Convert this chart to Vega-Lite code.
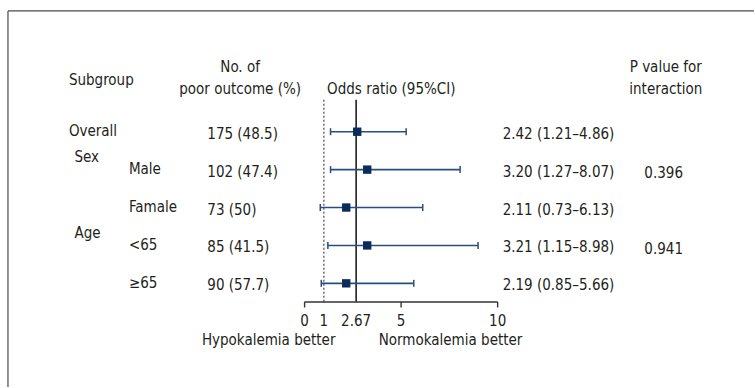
{
  "$schema": "https://vega.github.io/schema/vega-lite/v6.json",
  "width": 755,
  "height": 388,
  "autosize": {"type": "fit", "contains": "padding"},
  "padding": 0,
  "background": "#ffffff",
  "config": {
    "view": {"stroke": null},
    "text": {"font": "DejaVu Sans Condensed, Liberation Sans Narrow, Liberation Sans", "fontSize": 15, "color": "#231f20", "baseline": "alphabetic"}
  },
  "datasets": {
    "rows": [
      {"row": 1, "subgroup": "Overall", "n": "175 (48.5)", "or": 2.726, "lo": 1.345, "hi": 5.261, "ci": "2.42 (1.21–4.86)", "p": ""},
      {"row": 2, "subgroup": "Male", "n": "102 (47.4)", "or": 3.244, "lo": 1.345, "hi": 8.055, "ci": "3.20 (1.27–8.07)", "p": "0.396"},
      {"row": 3, "subgroup": "Famale", "n": "73 (50)", "or": 2.157, "lo": 0.812, "hi": 6.12, "ci": "2.11 (0.73–6.13)", "p": ""},
      {"row": 4, "subgroup": "<65", "n": "85 (41.5)", "or": 3.244, "lo": 1.205, "hi": 8.986, "ci": "3.21 (1.15–8.98)", "p": "0.941"},
      {"row": 5, "subgroup": "≥65", "n": "90 (57.7)", "or": 2.157, "lo": 0.864, "hi": 5.654, "ci": "2.19 (0.85–5.66)", "p": ""}
    ],
    "groups": [
      {"group": "Sex", "first_row": 2},
      {"group": "Age", "first_row": 4}
    ],
    "ticks": [
      {"value": 0, "label": "0", "major": true},
      {"value": 1, "label": "1", "major": false},
      {"value": 2.67, "label": "2.67", "major": false},
      {"value": 5, "label": "5", "major": true},
      {"value": 10, "label": "10", "major": true}
    ],
    "one": [{}]
  },
  "data": {"name": "rows"},
  "layer": [
    {
      "data": {"name": "one"},
      "mark": {"type": "rule", "color": "#4a4a4a", "strokeWidth": 1.2},
      "encoding": {
        "x": {"datum": -15.365, "scale": {"domain": [-15.778, 23.28], "nice": false, "zero": false}, "axis": null},
        "x2": {"datum": 23.28},
        "y": {"datum": -2.186, "scale": {"domain": [-2.475, 7.735], "reverse": true, "nice": false, "zero": false}, "axis": null}
      }
    },
    {
      "data": {"name": "one"},
      "mark": {"type": "rule", "color": "#4a4a4a", "strokeWidth": 1.2},
      "encoding": {
        "x": {"datum": -15.365, "scale": {"domain": [-15.778, 23.28], "nice": false, "zero": false}, "axis": null},
        "y": {"datum": -2.186, "scale": {"domain": [-2.475, 7.735], "reverse": true, "nice": false, "zero": false}, "axis": null},
        "y2": {"datum": 7.735}
      }
    },
    {
      "data": {"name": "one"},
      "mark": {"type": "rule", "color": "#222222", "strokeWidth": 1, "strokeDash": [2, 2]},
      "encoding": {
        "x": {"datum": 1, "scale": {"domain": [-15.778, 23.28], "nice": false, "zero": false}, "axis": null},
        "y": {"datum": 0.156, "scale": {"domain": [-2.475, 7.735], "reverse": true, "nice": false, "zero": false}, "axis": null},
        "y2": {"datum": 5.491}
      }
    },
    {
      "data": {"name": "one"},
      "mark": {"type": "rule", "color": "#111111", "strokeWidth": 1.5},
      "encoding": {
        "x": {"datum": 2.67, "scale": {"domain": [-15.778, 23.28], "nice": false, "zero": false}, "axis": null},
        "y": {"datum": 0.156, "scale": {"domain": [-2.475, 7.735], "reverse": true, "nice": false, "zero": false}, "axis": null},
        "y2": {"datum": 5.491}
      }
    },
    {
      "data": {"name": "one"},
      "mark": {"type": "rule", "color": "#333333", "strokeWidth": 1.4},
      "encoding": {
        "x": {"datum": 0, "scale": {"domain": [-15.778, 23.28], "nice": false, "zero": false}, "axis": null},
        "x2": {"datum": 10},
        "y": {"datum": 5.491, "scale": {"domain": [-2.475, 7.735], "reverse": true, "nice": false, "zero": false}, "axis": null}
      }
    },
    {
      "data": {"name": "ticks"},
      "transform": [{"filter": "datum.major"}],
      "mark": {"type": "rule", "color": "#333333", "strokeWidth": 1.4},
      "encoding": {
        "x": {"field": "value", "type": "quantitative", "scale": {"domain": [-15.778, 23.28], "nice": false, "zero": false}, "axis": null},
        "y": {"datum": 5.491, "scale": {"domain": [-2.475, 7.735], "reverse": true, "nice": false, "zero": false}, "axis": null},
        "y2": {"datum": 5.637}
      }
    },
    {
      "data": {"name": "ticks"},
      "mark": {"type": "text", "align": "center"},
      "encoding": {
        "x": {"field": "value", "type": "quantitative", "scale": {"domain": [-15.778, 23.28], "nice": false, "zero": false}, "axis": null},
        "y": {"datum": 6.122, "scale": {"domain": [-2.475, 7.735], "reverse": true, "nice": false, "zero": false}, "axis": null},
        "text": {"field": "label"}
      }
    },
    {
      "mark": {"type": "rule", "color": "#2b4d7e", "strokeWidth": 1.6},
      "encoding": {
        "x": {"field": "lo", "type": "quantitative", "scale": {"domain": [-15.778, 23.28], "nice": false, "zero": false}, "axis": null},
        "x2": {"field": "hi"},
        "y": {"field": "row", "type": "quantitative", "scale": {"domain": [-2.475, 7.735], "reverse": true, "nice": false, "zero": false}, "axis": null}
      }
    },
    {
      "mark": {"type": "tick", "orient": "vertical", "size": 7, "thickness": 1.5, "color": "#2b4d7e", "opacity": 1},
      "encoding": {
        "x": {"field": "lo", "type": "quantitative", "scale": {"domain": [-15.778, 23.28], "nice": false, "zero": false}, "axis": null},
        "y": {"field": "row", "type": "quantitative", "scale": {"domain": [-2.475, 7.735], "reverse": true, "nice": false, "zero": false}, "axis": null}
      }
    },
    {
      "mark": {"type": "tick", "orient": "vertical", "size": 7, "thickness": 1.5, "color": "#2b4d7e", "opacity": 1},
      "encoding": {
        "x": {"field": "hi", "type": "quantitative", "scale": {"domain": [-15.778, 23.28], "nice": false, "zero": false}, "axis": null},
        "y": {"field": "row", "type": "quantitative", "scale": {"domain": [-2.475, 7.735], "reverse": true, "nice": false, "zero": false}, "axis": null}
      }
    },
    {
      "mark": {"type": "point", "shape": "square", "filled": true, "size": 70, "color": "#0b2b5b", "opacity": 1},
      "encoding": {
        "x": {"field": "or", "type": "quantitative", "scale": {"domain": [-15.778, 23.28], "nice": false, "zero": false}, "axis": null},
        "y": {"field": "row", "type": "quantitative", "scale": {"domain": [-2.475, 7.735], "reverse": true, "nice": false, "zero": false}, "axis": null}
      }
    },
    {
      "transform": [{"filter": "datum.row == 1"}],
      "mark": {"type": "text", "align": "left", "dy": 4},
      "encoding": {
        "x": {"datum": -12.21, "scale": {"domain": [-15.778, 23.28], "nice": false, "zero": false}, "axis": null},
        "y": {"field": "row", "type": "quantitative", "scale": {"domain": [-2.475, 7.735], "reverse": true, "nice": false, "zero": false}, "axis": null},
        "text": {"field": "subgroup"}
      }
    },
    {
      "transform": [{"filter": "datum.row > 1"}],
      "mark": {"type": "text", "align": "left", "dy": 4.5},
      "encoding": {
        "x": {"datum": -9.1, "scale": {"domain": [-15.778, 23.28], "nice": false, "zero": false}, "axis": null},
        "y": {"field": "row", "type": "quantitative", "scale": {"domain": [-2.475, 7.735], "reverse": true, "nice": false, "zero": false}, "axis": null},
        "text": {"field": "subgroup"}
      }
    },
    {
      "data": {"name": "groups"},
      "mark": {"type": "text", "align": "left", "dy": -7.7},
      "encoding": {
        "x": {"datum": -11.92, "scale": {"domain": [-15.778, 23.28], "nice": false, "zero": false}, "axis": null},
        "y": {"field": "first_row", "type": "quantitative", "scale": {"domain": [-2.475, 7.735], "reverse": true, "nice": false, "zero": false}, "axis": null},
        "text": {"field": "group"}
      }
    },
    {
      "mark": {"type": "text", "align": "left", "dy": 7},
      "encoding": {
        "x": {"datum": -5.04, "scale": {"domain": [-15.778, 23.28], "nice": false, "zero": false}, "axis": null},
        "y": {"field": "row", "type": "quantitative", "scale": {"domain": [-2.475, 7.735], "reverse": true, "nice": false, "zero": false}, "axis": null},
        "text": {"field": "n"}
      }
    },
    {
      "mark": {"type": "text", "align": "left", "dy": 7},
      "encoding": {
        "x": {"datum": 10.26, "scale": {"domain": [-15.778, 23.28], "nice": false, "zero": false}, "axis": null},
        "y": {"field": "row", "type": "quantitative", "scale": {"domain": [-2.475, 7.735], "reverse": true, "nice": false, "zero": false}, "axis": null},
        "text": {"field": "ci"}
      }
    },
    {
      "mark": {"type": "text", "align": "center", "dy": 8.5},
      "encoding": {
        "x": {"datum": 18.6, "scale": {"domain": [-15.778, 23.28], "nice": false, "zero": false}, "axis": null},
        "y": {"field": "row", "type": "quantitative", "scale": {"domain": [-2.475, 7.735], "reverse": true, "nice": false, "zero": false}, "axis": null},
        "text": {"field": "p"}
      }
    },
    {
      "data": {"name": "one"},
      "mark": {"type": "text", "align": "left", "text": "Subgroup"},
      "encoding": {
        "x": {"datum": -12.21, "scale": {"domain": [-15.778, 23.28], "nice": false, "zero": false}, "axis": null},
        "y": {"datum": -0.225, "scale": {"domain": [-2.475, 7.735], "reverse": true, "nice": false, "zero": false}, "axis": null}
      }
    },
    {
      "data": {"name": "one"},
      "mark": {"type": "text", "align": "center", "text": ["No. of", "poor outcome (%)"], "lineHeight": 22.8},
      "encoding": {
        "x": {"datum": -3.34, "scale": {"domain": [-15.778, 23.28], "nice": false, "zero": false}, "axis": null},
        "y": {"datum": -0.588, "scale": {"domain": [-2.475, 7.735], "reverse": true, "nice": false, "zero": false}, "axis": null}
      }
    },
    {
      "data": {"name": "one"},
      "mark": {"type": "text", "align": "center", "text": "Odds ratio (95%CI)"},
      "encoding": {
        "x": {"datum": 4.49, "scale": {"domain": [-15.778, 23.28], "nice": false, "zero": false}, "axis": null},
        "y": {"datum": 0.01, "scale": {"domain": [-2.475, 7.735], "reverse": true, "nice": false, "zero": false}, "axis": null}
      }
    },
    {
      "data": {"name": "one"},
      "mark": {"type": "text", "align": "center", "text": ["P value for", "interaction"], "lineHeight": 21.5},
      "encoding": {
        "x": {"datum": 18.71, "scale": {"domain": [-15.778, 23.28], "nice": false, "zero": false}, "axis": null},
        "y": {"datum": -0.567, "scale": {"domain": [-2.475, 7.735], "reverse": true, "nice": false, "zero": false}, "axis": null}
      }
    },
    {
      "data": {"name": "one"},
      "mark": {"type": "text", "align": "center", "text": "Hypokalemia better"},
      "encoding": {
        "x": {"datum": -1.86, "scale": {"domain": [-15.778, 23.28], "nice": false, "zero": false}, "axis": null},
        "y": {"datum": 6.63, "scale": {"domain": [-2.475, 7.735], "reverse": true, "nice": false, "zero": false}, "axis": null}
      }
    },
    {
      "data": {"name": "one"},
      "mark": {"type": "text", "align": "center", "text": "Normokalemia better"},
      "encoding": {
        "x": {"datum": 7.56, "scale": {"domain": [-15.778, 23.28], "nice": false, "zero": false}, "axis": null},
        "y": {"datum": 6.63, "scale": {"domain": [-2.475, 7.735], "reverse": true, "nice": false, "zero": false}, "axis": null}
      }
    }
  ]
}
